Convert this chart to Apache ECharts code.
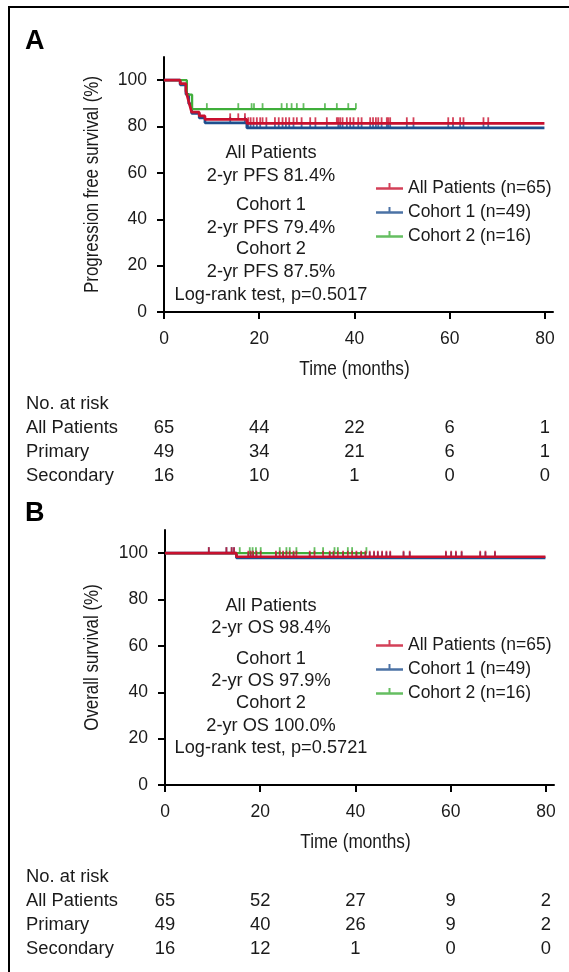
<!DOCTYPE html>
<html><head><meta charset="utf-8">
<script src="https://cdn.jsdelivr.net/npm/echarts@6/dist/echarts.min.js"></script>
<style>html,body{margin:0;padding:0;background:#fff}#c{width:569px;height:972px}</style>
</head><body><div id="c"></div>
<script>
// ---------- DATA ----------
const timeTicks = [0, 20, 40, 60, 80];
const survTicks = [0, 20, 40, 60, 80, 100];
const seriesNames = ['All Patients (n=65)', 'Cohort 1 (n=49)', 'Cohort 2 (n=16)'];
const riskRowLabels = ['All Patients', 'Primary', 'Secondary'];
const xTitle = 'Time (months)';
const yTitles = ['Progression free survival (%)', 'Overall survival (%)'];

// PFS step curves [time, survival %]
const pfsAll = [[0,100],[3.4,98.5],[4.6,95.4],[5.0,92.3],[5.4,89.2],[5.8,86.2],[7.4,84.6],[8.6,83.1],[17.4,81.4],[79.9,81.4]];
const pfsC1  = [[0,100],[3.4,98.0],[4.6,93.9],[5.2,89.8],[5.8,85.7],[7.4,83.7],[8.6,81.6],[17.4,79.4],[79.9,79.4]];
const pfsC2  = [[0,100],[4.8,93.75],[5.9,87.5],[40.3,87.5]];
// PFS censor times
const pfsAllCens = [13.9,15.6,17.0,17.7,18.2,18.8,19.5,20.2,20.7,21.5,23.3,24.1,24.9,25.6,26.3,27.2,27.9,28.9,30.7,31.8,34.2,36.3,36.6,37.0,37.5,38.4,39.1,39.8,40.8,41.5,43.3,43.9,44.5,45.0,45.7,46.8,47.1,47.5,51.0,52.4,59.7,60.7,62.2,62.9,67.1,68.1];
const pfsC1Cens  = [13.9,17.0,17.7,18.2,18.8,19.5,20.2,21.5,23.3,24.1,24.9,25.6,26.3,27.2,28.9,30.7,31.8,34.2,36.6,37.0,37.5,38.4,39.1,39.8,40.8,41.5,43.3,43.9,44.5,45.0,45.7,46.8,47.1,47.5,51.0,52.4,59.7,60.7,62.2,62.9,67.1,68.1];
const pfsC2Cens  = [9.0,15.6,18.4,18.9,20.7,24.7,25.8,26.8,27.9,29.3,33.8,36.3,38.7,40.3];

// OS step curves
const osAll = [[0,100],[15.0,98.46],[79.9,98.46]];
const osC1  = [[0,100],[15.0,97.96],[79.9,97.96]];
const osC2  = [[0,100],[42.4,100]];
const osAllCens = [9.2,12.9,14.0,14.5,17.5,18.0,18.5,19.2,20.1,23.3,24.1,24.8,25.5,26.2,27.0,27.6,30.4,31.4,33.2,34.6,35.4,36.3,37.4,38.4,39.3,40.2,41.2,42.1,43.0,43.9,44.7,45.6,46.5,47.3,50.1,51.4,59.0,60.1,61.1,62.3,66.2,67.3,69.3];
const osC1Cens  = [9.2,12.9,14.0,14.5,17.5,18.0,18.5,19.2,23.3,24.8,27.0,30.4,34.6,35.4,37.4,40.2,41.2,42.1,43.0,43.9,44.7,45.6,46.5,47.3,50.1,51.4,59.0,60.1,61.1,62.3,66.2,67.3,69.3];
const osC2Cens  = [15.7,17.8,18.4,19.1,20.1,24.1,25.5,26.2,27.6,31.4,33.2,35.6,36.3,38.4,39.3,42.3];

// Numbers at risk at timeTicks
const pfsRisk = [[65,44,22,6,1],[49,34,21,6,1],[16,10,1,0,0]];
const osRisk  = [[65,52,27,9,2],[49,40,26,9,2],[16,12,1,0,0]];

// Annotation text
const pfsNotes = ['All Patients','2-yr PFS 81.4%','Cohort 1','2-yr PFS 79.4%','Cohort 2','2-yr PFS 87.5%','Log-rank test, p=0.5017'];
const osNotes  = ['All Patients','2-yr OS 98.4%','Cohort 1','2-yr OS 97.9%','Cohort 2','2-yr OS 100.0%','Log-rank test, p=0.5721'];

// ---------- STYLE / LAYOUT ----------
const COLORS = ['#c8102e', '#1e4f8e', '#3fae3a'];
const FONT = "'Liberation Sans', Arial, Helvetica, sans-serif";
const TXT = '#1a1a1a';
const FS = 17.5;
const pfsNoteY = [153, 176, 205, 228, 249.5, 272, 295];
const osNoteY  = [606.5, 628.5, 659, 681, 703, 726, 748];
const noteX = 271;

function stepAt(curve, t) {
  let v = curve[0][1];
  for (const p of curve) { if (p[0] <= t) v = p[1]; }
  return v;
}

const chart = echarts.init(document.getElementById('c'), null, {renderer: 'canvas'});

function xAxisDef(gi) {
  return {
    gridIndex: gi, type: 'value', min: 0, max: 81.7,
    axisLine: {show: true, onZero: false, lineStyle: {color: '#000', width: 2}},
    axisTick: {show: true, length: 7, inside: false, customValues: timeTicks, lineStyle: {color: '#000', width: 2}},
    axisLabel: {customValues: timeTicks, margin: 18, fontSize: FS, color: TXT, fontFamily: FONT},
    splitLine: {show: false}
  };
}
function yAxisDef(gi) {
  return {
    gridIndex: gi, type: 'value', min: 0, max: 110,
    axisLine: {show: true, onZero: false, lineStyle: {color: '#000', width: 2}},
    axisTick: {show: true, length: 7, inside: false, customValues: survTicks, lineStyle: {color: '#000', width: 2}},
    axisLabel: {customValues: survTicks, margin: 17, fontSize: FS, color: TXT, fontFamily: FONT},
    splitLine: {show: false}
  };
}

function kmSeries(gi, curves, cens) {
  const out = [];
  const order = [1, 2, 0]; // blue, green, red on top
  order.forEach((k, j) => {
    const z = 3 + j;
    out.push({
      type: 'scatter', name: seriesNames[k], xAxisIndex: gi, yAxisIndex: gi,
      symbol: 'rect', symbolSize: [1.8, 6], symbolOffset: [0, -3], z: z,
      itemStyle: {color: COLORS[k]}, silent: true,
      data: cens[k].map(t => [t, stepAt(curves[k], t)])
    });
    out.push({
      type: 'line', name: seriesNames[k], xAxisIndex: gi, yAxisIndex: gi,
      step: 'end', symbol: 'none', showSymbol: false, z: z, silent: true,
      lineStyle: {color: COLORS[k], width: k === 2 ? 2.3 : 2.7},
      itemStyle: {color: COLORS[k]},
      data: curves[k]
    });
  });
  return out;
}

const ICON = 'path://M0,4.25h27v2.5h-27z M12.5,0h2v5h-2z M0,10.9h0.1v0.1h-0.1z';
function legendDef(top) {
  return {
    left: 371, top: top, orient: 'vertical', itemWidth: 27, itemHeight: 11,
    itemGap: 6, itemTextGap: 9, symbolKeepAspect: false,
    textStyle: {fontSize: FS, color: TXT, fontFamily: FONT},
    data: seriesNames.map((n, i) => ({name: n, icon: ICON, itemStyle: {color: COLORS[i], borderWidth: 0}}))
  };
}

chart.setOption({
  animation: false,
  backgroundColor: '#fff',
  grid: [
    {left: 164, top: 57, width: 389, height: 255},
    {left: 165, top: 530, width: 389, height: 255}
  ],
  xAxis: [xAxisDef(0), xAxisDef(1)],
  yAxis: [yAxisDef(0), yAxisDef(1)],
  legend: [legendDef(174.5), legendDef(631.5)],
  series: [].concat(
    kmSeries(0, [pfsAll, pfsC1, pfsC2], [pfsAllCens, pfsC1Cens, pfsC2Cens]),
    kmSeries(1, [osAll, osC1, osC2], [osAllCens, osC1Cens, osC2Cens])
  )
});

// ---------- TEXT GRAPHICS ----------
const g = [];
g.push({type: 'rect', shape: {x: 9, y: 7, width: 700, height: 1100}, style: {fill: 'none', stroke: '#000', lineWidth: 2}, silent: true});
g.push({type: 'text', x: 25, y: 42, style: {text: 'A', font: "bold 27px " + FONT, fill: '#000', verticalAlign: 'middle'}});
g.push({type: 'text', x: 25, y: 514, style: {text: 'B', font: "bold 27px " + FONT, fill: '#000', verticalAlign: 'middle'}});

// axis titles (condensed look via horizontal scaling)
[0, 1].forEach(gi => {
  const x40 = chart.convertToPixel({xAxisIndex: gi}, 40);
  const y0 = chart.convertToPixel({yAxisIndex: gi}, 0);
  const yMid = chart.convertToPixel({yAxisIndex: gi}, 55);
  g.push({type: 'text', x: x40, y: y0 + 57, scaleX: 0.82,
    style: {text: xTitle, font: '21px ' + FONT, fill: TXT, align: 'center', verticalAlign: 'middle'}});
  g.push({type: 'text', x: 92, y: yMid, rotation: Math.PI / 2, scaleX: 0.805,
    style: {text: yTitles[gi], font: '21px ' + FONT, fill: TXT, align: 'center', verticalAlign: 'middle'}});
});

function notes(lines, ys) {
  lines.forEach((s, i) => g.push({type: 'text', x: noteX, y: ys[i], scaleX: 1.04,
    style: {text: s, font: FS + 'px ' + FONT, fill: TXT, align: 'center', verticalAlign: 'middle'}}));
}
notes(pfsNotes, pfsNoteY);
notes(osNotes, osNoteY);

function riskTable(gi, risk, y0) {
  g.push({type: 'text', x: 26, y: y0, scaleX: 1.05, style: {text: 'No. at risk', font: FS + 'px ' + FONT, fill: TXT, verticalAlign: 'middle'}});
  risk.forEach((row, r) => {
    const y = y0 + 24 * (r + 1);
    g.push({type: 'text', x: 26, y: y, scaleX: 1.05, style: {text: riskRowLabels[r], font: FS + 'px ' + FONT, fill: TXT, verticalAlign: 'middle'}});
    row.forEach((v, c) => {
      const px = chart.convertToPixel({xAxisIndex: gi}, timeTicks[c]);
      g.push({type: 'text', x: px, y: y, scaleX: 1.05, style: {text: String(v), font: FS + 'px ' + FONT, fill: TXT, align: 'center', verticalAlign: 'middle'}});
    });
  });
}
riskTable(0, pfsRisk, 404);
riskTable(1, osRisk, 877);

chart.setOption({graphic: {elements: g}});
</script></body></html>
